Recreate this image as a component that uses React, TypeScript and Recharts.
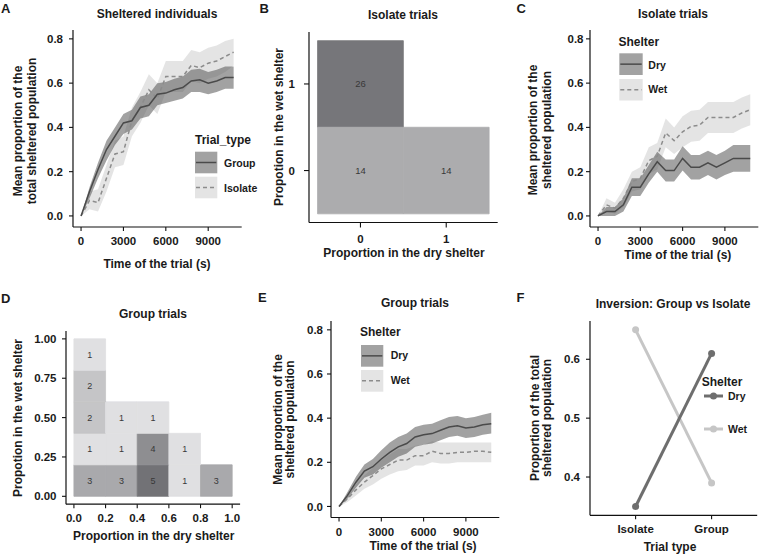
import React from 'react';
import { ComposedChart, Line, Area, XAxis, YAxis, ReferenceArea } from 'recharts';

const FONT = '"Liberation Sans", Arial, Helvetica, sans-serif';

// sampling times of the trials (s)
const times = [0, 600, 1200, 1800, 2400, 3000, 3600, 4200, 4800, 5400, 6000, 6600, 7200, 7800, 8400, 9000, 9600, 10200, 10800];
const timeTicks = [0, 3000, 6000, 9000];
const propTicks = [0, 0.2, 0.4, 0.6, 0.8];

// A: sheltered individuals, group vs isolate
const groupMean = [0, 0.11, 0.21, 0.3, 0.36, 0.42, 0.43, 0.49, 0.5, 0.55, 0.555, 0.57, 0.58, 0.61, 0.615, 0.6, 0.61, 0.625, 0.625];
const groupLo = [0, 0.08, 0.17, 0.25, 0.32, 0.37, 0.39, 0.44, 0.45, 0.5, 0.51, 0.52, 0.53, 0.56, 0.56, 0.55, 0.56, 0.575, 0.575];
const groupHi = [0, 0.13, 0.24, 0.34, 0.4, 0.46, 0.48, 0.54, 0.55, 0.6, 0.605, 0.62, 0.63, 0.66, 0.665, 0.65, 0.66, 0.675, 0.675];
const isolateMean = [0, 0.07, 0.06, 0.17, 0.28, 0.29, 0.43, 0.49, 0.57, 0.53, 0.63, 0.63, 0.63, 0.68, 0.67, 0.69, 0.7, 0.72, 0.74];
const isolateLo = [0, 0.03, 0.02, 0.11, 0.22, 0.23, 0.36, 0.42, 0.5, 0.46, 0.56, 0.56, 0.56, 0.61, 0.6, 0.62, 0.63, 0.65, 0.68];
const isolateHi = [0, 0.11, 0.12, 0.23, 0.34, 0.36, 0.49, 0.56, 0.64, 0.6, 0.7, 0.7, 0.7, 0.75, 0.74, 0.76, 0.77, 0.79, 0.8];

// C: isolate trials, by shelter
const isoDryMean = [0, 0.02, 0.02, 0.05, 0.13, 0.13, 0.19, 0.245, 0.205, 0.205, 0.26, 0.22, 0.22, 0.24, 0.22, 0.24, 0.26, 0.26, 0.26];
const isoDryLo = [0, 0, 0, 0.02, 0.09, 0.09, 0.15, 0.2, 0.155, 0.155, 0.205, 0.165, 0.165, 0.185, 0.165, 0.185, 0.2, 0.2, 0.2];
const isoDryHi = [0, 0.04, 0.04, 0.08, 0.17, 0.17, 0.23, 0.29, 0.255, 0.255, 0.315, 0.275, 0.275, 0.295, 0.275, 0.295, 0.32, 0.32, 0.32];
const isoWetMean = [0, 0.05, 0.035, 0.08, 0.155, 0.17, 0.25, 0.27, 0.375, 0.34, 0.38, 0.405, 0.41, 0.445, 0.445, 0.445, 0.445, 0.465, 0.48];
const isoWetLo = [0, 0.02, 0.01, 0.04, 0.11, 0.12, 0.19, 0.21, 0.31, 0.28, 0.31, 0.335, 0.34, 0.375, 0.375, 0.375, 0.375, 0.395, 0.41];
const isoWetHi = [0, 0.08, 0.06, 0.12, 0.2, 0.22, 0.31, 0.33, 0.44, 0.4, 0.45, 0.475, 0.48, 0.515, 0.515, 0.515, 0.515, 0.535, 0.55];

// E: group trials, by shelter
const grpDryMean = [0, 0.05, 0.11, 0.16, 0.18, 0.215, 0.245, 0.27, 0.285, 0.315, 0.325, 0.33, 0.345, 0.36, 0.365, 0.355, 0.36, 0.37, 0.375];
const grpDryLo = [0, 0.035, 0.085, 0.13, 0.145, 0.175, 0.2, 0.225, 0.24, 0.27, 0.28, 0.285, 0.3, 0.315, 0.32, 0.31, 0.315, 0.325, 0.33];
const grpDryHi = [0, 0.065, 0.135, 0.19, 0.215, 0.255, 0.29, 0.315, 0.33, 0.36, 0.37, 0.375, 0.39, 0.405, 0.41, 0.4, 0.405, 0.415, 0.425];
const grpWetMean = [0, 0.035, 0.075, 0.11, 0.14, 0.17, 0.19, 0.21, 0.21, 0.23, 0.23, 0.25, 0.24, 0.24, 0.245, 0.245, 0.25, 0.25, 0.245];
const grpWetLo = [0, 0.02, 0.05, 0.08, 0.1, 0.125, 0.145, 0.16, 0.165, 0.185, 0.185, 0.2, 0.195, 0.195, 0.2, 0.2, 0.2, 0.2, 0.2];
const grpWetHi = [0, 0.05, 0.1, 0.14, 0.175, 0.21, 0.235, 0.26, 0.26, 0.275, 0.28, 0.295, 0.29, 0.29, 0.29, 0.29, 0.29, 0.29, 0.29];

// B: isolate trials, counts per (dry, wet) cell
const bDry = [0, 0, 1];
const bWet = [1, 0, 0];
const bCount = [26, 14, 14];

// D: group trials, counts per bin (bin centres)
const dDry = [0.1, 0.3, 0.5, 0.7, 0.9, 0.1, 0.3, 0.5, 0.7, 0.1, 0.3, 0.5, 0.1, 0.1];
const dWet = [0.1, 0.1, 0.1, 0.1, 0.1, 0.3, 0.3, 0.3, 0.3, 0.5, 0.5, 0.5, 0.7, 0.9];
const dCount = [3, 3, 5, 1, 3, 1, 1, 4, 1, 2, 1, 1, 2, 1];

// F: inversion
const trialTypes = ['Isolate', 'Group'];
const invDry = [0.35, 0.61];
const invWet = [0.65, 0.39];

const DARK_FILL = '#555';
const DARK_OP = 0.55;
const LIGHT_FILL = '#aaa';
const LIGHT_OP = 0.32;
const DARK_LINE = '#4a4a4a';
const LIGHT_LINE = '#8c8c8c';
const INK = '#1a1a1a';

const tickFont = { fill: INK, fontSize: 11.5, fontWeight: 700, fontFamily: FONT };
const axisLine = { stroke: '#111', strokeWidth: 1.2 };
const tickLine = { stroke: '#111', strokeWidth: 1.1 };

const PAD_L = 50;
const PAD_T = 6;
const PAD_R = 1;
const PAD_B = 34;

type Rect = { x0: number; y0: number; x1: number; y1: number };

const rectA: Rect = { x0: 72.9, y0: 30, x1: 241.6, y1: 227 };
const rectB: Rect = { x0: 309.3, y0: 32, x1: 498, y1: 222.5 };
const rectC: Rect = { x0: 589.7, y0: 30, x1: 758, y1: 227 };
const rectD: Rect = { x0: 66.1, y0: 331.4, x1: 240.2, y1: 504.6 };
const rectE: Rect = { x0: 331.3, y0: 321.2, x1: 499.6, y1: 517.7 };
const rectF: Rect = { x0: 590.1, y0: 320.7, x1: 757.3, y1: 515 };

const hex = (c: string) => [1, 3, 5].map((i) => parseInt(c.slice(i, i + 2), 16));
const shade = (v: number, lo: number, hi: number, light: string, dark: string) => {
  const a = hex(light);
  const b = hex(dark);
  const f = (v - lo) / (hi - lo);
  return `rgb(${a.map((x, i) => Math.round(x + (b[i] - x) * f)).join(',')})`;
};

const Frame = ({ rect, data, children }: { rect: Rect; data: any[]; children: React.ReactNode }) => (
  <div style={{ position: 'absolute', left: rect.x0 - PAD_L, top: rect.y0 - PAD_T }}>
    <ComposedChart
      width={rect.x1 - rect.x0 + PAD_L + PAD_R}
      height={rect.y1 - rect.y0 + PAD_T + PAD_B}
      data={data}
      margin={{ top: PAD_T, right: PAD_R, bottom: 0, left: 0 }}
    >
      {children}
    </ComposedChart>
  </div>
);

const timeXAxis = () => (
  <XAxis
    type="number"
    dataKey="t"
    domain={[-570, 11370]}
    ticks={timeTicks}
    allowDataOverflow
    interval={0}
    height={PAD_B}
    axisLine={axisLine}
    tickLine={tickLine}
    tickSize={4}
    tickMargin={6}
    tick={tickFont}
  />
);

const propYAxis = (margin: number) => (
  <YAxis
    type="number"
    domain={[-0.05, 0.84]}
    ticks={propTicks}
    allowDataOverflow
    interval={0}
    width={PAD_L}
    axisLine={axisLine}
    tickLine={tickLine}
    tickSize={4}
    tickMargin={margin}
    tick={tickFont}
    tickFormatter={(v: number) => v.toFixed(1)}
  />
);

const bands = (darkKey: string, lightKey: string, darkMean: string, lightMean: string) => [
  <Area key="ld" type="linear" dataKey={lightKey} stroke="none" fill={LIGHT_FILL} fillOpacity={LIGHT_OP} dot={false} activeDot={false} isAnimationActive={false} />,
  <Area key="dk" type="linear" dataKey={darkKey} stroke="none" fill={DARK_FILL} fillOpacity={DARK_OP} dot={false} activeDot={false} isAnimationActive={false} />,
  <Line key="lm" type="linear" dataKey={lightMean} stroke={LIGHT_LINE} strokeWidth={1.5} strokeDasharray="4 3" dot={false} activeDot={false} isAnimationActive={false} />,
  <Line key="dm" type="linear" dataKey={darkMean} stroke={DARK_LINE} strokeWidth={1.5} dot={false} activeDot={false} isAnimationActive={false} />,
];

const rowsA = times.map((t, i) => ({ t, g: groupMean[i], gBand: [groupLo[i], groupHi[i]], iso: isolateMean[i], isoBand: [isolateLo[i], isolateHi[i]] }));
const rowsC = times.map((t, i) => ({ t, dry: isoDryMean[i], dryBand: [isoDryLo[i], isoDryHi[i]], wet: isoWetMean[i], wetBand: [isoWetLo[i], isoWetHi[i]] }));
const rowsE = times.map((t, i) => ({ t, dry: grpDryMean[i], dryBand: [grpDryLo[i], grpDryHi[i]], wet: grpWetMean[i], wetBand: [grpWetLo[i], grpWetHi[i]] }));
const rowsB = bCount.map((n, i) => ({ x: bDry[i], y: bWet[i], n }));
const rowsD = dCount.map((n, i) => ({ x: dDry[i], y: dWet[i], n }));
const rowsF = trialTypes.map((name, i) => ({ pos: i + 1, name, dry: invDry[i], wet: invWet[i] }));

const T = ({ x, y, size = 12, anchor = 'middle', weight = 700, rot = false, children }: any) =>
  rot ? (
    <text transform={`translate(${x},${y}) rotate(-90)`} textAnchor="middle" dy="0.35em" fontSize={size} fontWeight={weight} fill={INK} fontFamily={FONT}>
      {children}
    </text>
  ) : (
    <text x={x} y={y} textAnchor={anchor} fontSize={size} fontWeight={weight} fill={INK} fontFamily={FONT}>
      {children}
    </text>
  );

const RibbonKey = ({ x, y, w, h, dark }: { x: number; y: number; w: number; h: number; dark: boolean }) => (
  <g>
    <rect x={x} y={y} width={w} height={h} fill={dark ? DARK_FILL : LIGHT_FILL} fillOpacity={dark ? DARK_OP : LIGHT_OP} />
    <line x1={x + 1} x2={x + w - 1} y1={y + h / 2} y2={y + h / 2} stroke={dark ? DARK_LINE : LIGHT_LINE} strokeWidth={1.5} strokeDasharray={dark ? undefined : '4 3'} />
  </g>
);

const PointKey = ({ x, y, color }: { x: number; y: number; color: string }) => (
  <g>
    <line x1={x} x2={x + 19} y1={y} y2={y} stroke={color} strokeWidth={3} />
    <circle cx={x + 9.5} cy={y} r={3.5} fill={color} />
  </g>
);

const tile = (key: number, x: number, y: number, half: number, n: number, color: string, size: number) => (
  <ReferenceArea
    key={key}
    x1={x - half}
    x2={x + half}
    y1={y - half}
    y2={y + half}
    fill={color}
    fillOpacity={1}
    stroke={color}
    strokeWidth={0.8}
    label={{ value: String(n), position: 'center', fill: '#383838', stroke: 'none', fontSize: size, fontFamily: FONT }}
  />
);

export default function App() {
  return (
    <div style={{ position: 'absolute', left: 0, top: 0, width: 760, height: 554, overflow: 'hidden', background: '#fff' }}>
      {/* A */}
      <Frame rect={rectA} data={rowsA}>
        {timeXAxis()}
        {propYAxis(6)}
        {bands('gBand', 'isoBand', 'g', 'iso')}
      </Frame>

      {/* B */}
      <Frame rect={rectB} data={rowsB}>
        <XAxis type="number" dataKey="x" domain={[-0.6, 1.6]} ticks={[0, 1]} allowDataOverflow interval={0} height={PAD_B} axisLine={axisLine} tickLine={tickLine} tickSize={5} tickMargin={7} tick={tickFont} />
        <YAxis type="number" dataKey="y" domain={[-0.6, 1.6]} ticks={[0, 1]} allowDataOverflow interval={0} width={PAD_L} axisLine={axisLine} tickLine={tickLine} tickSize={5} tickMargin={9} tick={tickFont} />
        {rowsB.map((r, i) => tile(i, r.x, r.y, 0.5, r.n, shade(r.n, 14, 26, '#acacae', '#76767a'), 9.5))}
      </Frame>

      {/* C */}
      <Frame rect={rectC} data={rowsC}>
        {timeXAxis()}
        {propYAxis(2.5)}
        {bands('dryBand', 'wetBand', 'dry', 'wet')}
      </Frame>

      {/* D */}
      <Frame rect={rectD} data={rowsD}>
        <XAxis type="number" dataKey="x" domain={[-0.05, 1.05]} ticks={[0, 0.2, 0.4, 0.6, 0.8, 1]} allowDataOverflow interval={0} height={PAD_B} axisLine={axisLine} tickLine={tickLine} tickSize={4} tickMargin={6} tick={tickFont} tickFormatter={(v: number) => v.toFixed(1)} />
        <YAxis type="number" dataKey="y" domain={[-0.05, 1.05]} ticks={[0, 0.25, 0.5, 0.75, 1]} allowDataOverflow interval={0} width={PAD_L} axisLine={axisLine} tickLine={tickLine} tickSize={4} tickMargin={5.5} tick={tickFont} tickFormatter={(v: number) => v.toFixed(2)} />
        {rowsD.map((r, i) => tile(i, r.x, r.y, 0.1, r.n, shade(r.n, 1, 5, '#e0e0e2', '#727276'), 9))}
      </Frame>

      {/* E */}
      <Frame rect={rectE} data={rowsE}>
        {timeXAxis()}
        {propYAxis(4)}
        {bands('dryBand', 'wetBand', 'dry', 'wet')}
      </Frame>

      {/* F */}
      <Frame rect={rectF} data={rowsF}>
        <XAxis type="number" dataKey="pos" domain={[0.4, 2.6]} ticks={[1, 2]} allowDataOverflow interval={0} height={PAD_B} axisLine={axisLine} tickLine={tickLine} tickSize={4} tickMargin={6} tick={tickFont} tickFormatter={(v: number) => trialTypes[v - 1]} />
        <YAxis type="number" domain={[0.335, 0.665]} ticks={[0.4, 0.5, 0.6]} allowDataOverflow interval={0} width={PAD_L} axisLine={axisLine} tickLine={tickLine} tickSize={4} tickMargin={6} tick={tickFont} tickFormatter={(v: number) => v.toFixed(1)} />
        <Line type="linear" dataKey="wet" stroke="#c6c6c6" strokeWidth={3} dot={{ r: 3.5, fill: '#c6c6c6', stroke: 'none' }} activeDot={false} isAnimationActive={false} />
        <Line type="linear" dataKey="dry" stroke="#6e6e6e" strokeWidth={3} dot={{ r: 3.5, fill: '#6e6e6e', stroke: 'none' }} activeDot={false} isAnimationActive={false} />
      </Frame>

      <svg width={760} height={554} style={{ position: 'absolute', left: 0, top: 0, pointerEvents: 'none' }}>
        {/* A */}
        <T x={1} y={12.5} size={13} anchor="start">A</T>
        <T x={157} y={17.5}>Sheltered individuals</T>
        <T x={18} y={131} rot>Mean proportion of the</T>
        <T x={32} y={131} rot>total sheltered population</T>
        <T x={157} y={268}>Time of the trial (s)</T>
        <T x={195} y={144.3} anchor="start">Trial_type</T>
        <RibbonKey x={195} y={151.7} w={22.3} h={21.6} dark />
        <RibbonKey x={195} y={176.7} w={22.3} h={21.6} dark={false} />
        <T x={224} y={166.8} size={10.5} anchor="start">Group</T>
        <T x={224} y={191.8} size={10.5} anchor="start">Isolate</T>

        {/* B */}
        <T x={259.5} y={12.5} size={13} anchor="start">B</T>
        <T x={403} y={19}>Isolate trials</T>
        <T x={278.3} y={127} rot>Propotion in the wet shelter</T>
        <T x={404} y={257}>Proportion in the dry shelter</T>

        {/* C */}
        <T x={516.5} y={12.5} size={13} anchor="start">C</T>
        <T x={673} y={18}>Isolate trials</T>
        <T x={533} y={130} rot>Mean proportion of the</T>
        <T x={547} y={130} rot>sheltered population</T>
        <T x={677.8} y={258.6}>Time of the trial (s)</T>
        <T x={618.5} y={46} anchor="start">Shelter</T>
        <RibbonKey x={619.3} y={53.3} w={23.4} h={21.7} dark />
        <RibbonKey x={619.3} y={79} w={23.4} h={21.5} dark={false} />
        <T x={648.3} y={68.8} size={10.5} anchor="start">Dry</T>
        <T x={648.3} y={93} size={10.5} anchor="start">Wet</T>

        {/* D */}
        <T x={1} y={302.7} size={13} anchor="start">D</T>
        <T x={153} y={318}>Group trials</T>
        <T x={18} y={418} rot>Propotion in the wet shelter</T>
        <T x={153.7} y={540.3}>Proportion in the dry shelter</T>

        {/* E */}
        <T x={258} y={301.7} size={13} anchor="start">E</T>
        <T x={415} y={307}>Group trials</T>
        <T x={278} y={419.5} rot>Mean proportion of the</T>
        <T x={290} y={419.5} rot>sheltered population</T>
        <T x={423} y={550.3}>Time of the trial (s)</T>
        <T x={360} y={336} anchor="start">Shelter</T>
        <RibbonKey x={361} y={345} w={22.3} h={21.7} dark />
        <RibbonKey x={361} y={370} w={22.3} h={21.7} dark={false} />
        <T x={390.7} y={358.8} size={10.5} anchor="start">Dry</T>
        <T x={390.7} y={383.8} size={10.5} anchor="start">Wet</T>

        {/* F */}
        <T x={516.5} y={301.7} size={13} anchor="start">F</T>
        <T x={673} y={308}>Inversion: Group vs Isolate</T>
        <T x={535} y={418} rot>Proportion of the total</T>
        <T x={547} y={418} rot>sheltered population</T>
        <T x={670} y={551.3}>Trial type</T>
        <T x={701.7} y={386} anchor="start">Shelter</T>
        <PointKey x={704} y={396} color="#6e6e6e" />
        <PointKey x={704} y={429} color="#c6c6c6" />
        <T x={728} y={399.8} size={10.5} anchor="start">Dry</T>
        <T x={728} y={432.8} size={10.5} anchor="start">Wet</T>
      </svg>
    </div>
  );
}
